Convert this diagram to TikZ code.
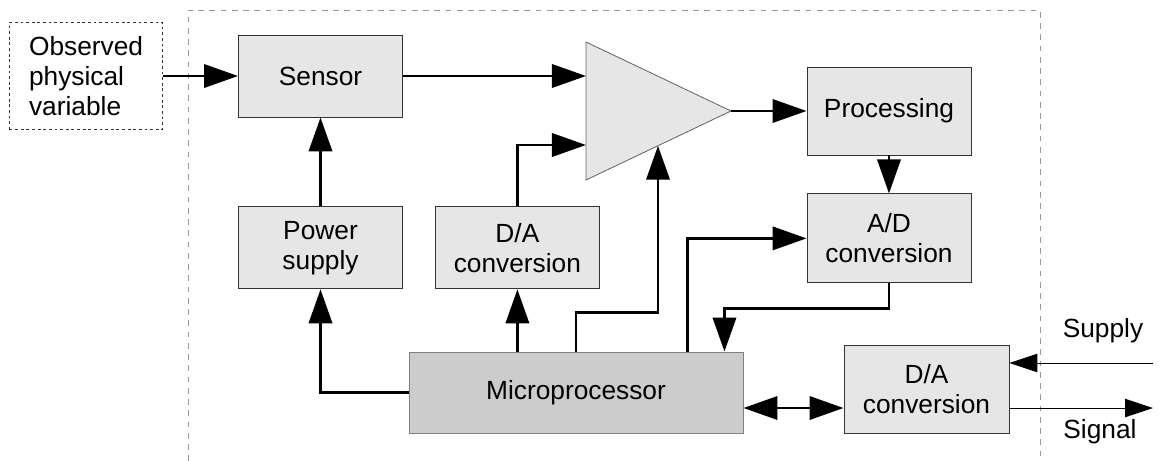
\documentclass[tikz,border=0pt]{standalone}
\usepackage{fontspec}
\setmainfont{Liberation Sans}
\usepackage{tikz}
\usetikzlibrary{arrows.meta, positioning, calc}
\definecolor{boxgray}{HTML}{E6E6E6}
\definecolor{cpugray}{HTML}{CCCCCC}
\definecolor{edgegray}{HTML}{333333}
\definecolor{framegray}{HTML}{999999}

\begin{document}
\begin{tikzpicture}[
    x=0.025cm, y=-0.025cm,
    block/.style={
      rectangle,
      draw=edgegray,
      fill=boxgray,
      line width=0.6pt,
      minimum height=2.05cm,
      minimum width=4.1cm,
      inner sep=0pt,
      align=center,
      font=\fontsize{18.7}{21.5}\selectfont
    },
    cpu/.style={
      block,
      draw=gray,
      fill=cpugray,
      minimum width=8.35cm,
      minimum height=2.025cm
    },
    arrow/.style={
      -{Triangle[length=0.85cm, width=0.58cm]},
      line width=2.1pt
    },
    thinarrow/.style={
      -{Triangle[length=0.7cm, width=0.46cm]},
      line width=0.7pt
    },
    label/.style={font=\fontsize{18.7}{21.5}\selectfont}
  ]
    \useasboundingbox (0,0) rectangle (1160,461);

    % instrument frame (open at the bottom)
    \draw[framegray, dash pattern=on 4pt off 4pt, line width=0.6pt]
      (188,461) -- (188,10) -- (1040,10) -- (1040,461);

    % Top row
    \node (sensor) [block, minimum height=2.05cm] at (320.5,76) {Sensor};
    \node (observed) [block, fill=white, draw=edgegray, dash pattern=on 2pt off 2pt,
      minimum width=3.825cm, minimum height=2.675cm, align=left,
      left=1.875cm of sensor] {Observed\\physical\\variable};
    \node (proc) [block, minimum height=2.2cm] at (889,111) {Processing};

    % amplifier
    \coordinate (ampin1) at (586,76);
    \coordinate (ampin2) at (586,145);
    \coordinate (ampout) at (731,111);
    \coordinate (ampctl) at (658,145.7);
    \draw[draw=gray!80!black, fill=boxgray, line width=0.6pt]
      (586,42) -- (ampout) -- (586,180) -- cycle;

    % Middle row
    \node (power) [block, below=2.225cm of sensor] {Power\\supply};
    \node (dac1) [block, right=0.8cm of power] {D/A\\conversion};
    \node (adc) [block, minimum height=2.225cm, below=0.95cm of proc] {A/D\\conversion};

    % Bottom row
    \node (micro) [cpu] at (576,392.5) {Microprocessor};
    \node (dac2) [block, minimum width=4.125cm, minimum height=2.2cm] at (926.5,389) {D/A\\conversion};

    \coordinate (supplyin) at (1153,363);
    \coordinate (signalout) at (1153,408);
    \node (supplylbl) [label] at (1103,331) {Supply};
    \node (signallbl) [label] at (1100,432) {Signal};

    % Connections
    \draw [arrow] (observed.east) -- (observed.east -| sensor.west);
    \draw [arrow] (sensor.east) -- (ampin1);
    \draw [arrow] (power) -- (sensor);
    \draw [arrow] (dac1.north) |- (ampin2);
    \draw [arrow] (ampout) -- (ampout -| proc.west);
    \draw [arrow] (proc) -- (adc);
    \draw [arrow] (micro.north) -- ++(0,-39) -| (ampctl);
    \draw [arrow] (micro.north -| dac1) -- (dac1.south);
    \draw [arrow] (micro.west) -| (power.south);
    \draw [arrow] ([xshift=-1.4cm]micro.north east) |- (adc.west);
    \draw [arrow] (adc.south) -- ++(0,25) -| ([xshift=-0.475cm]micro.north east);
    \draw [{Triangle[length=0.85cm, width=0.58cm]}-{Triangle[length=0.85cm, width=0.58cm]}, line width=2.1pt]
      ([yshift=-0.3875cm]micro.east) -- ([yshift=-0.3875cm]micro.east -| dac2.west);
    \draw [thinarrow] (supplyin) -- (supplyin -| dac2.east);
    \draw [thinarrow] (signalout -| dac2.east) -- (signalout);

  \end{tikzpicture}
\end{document}
